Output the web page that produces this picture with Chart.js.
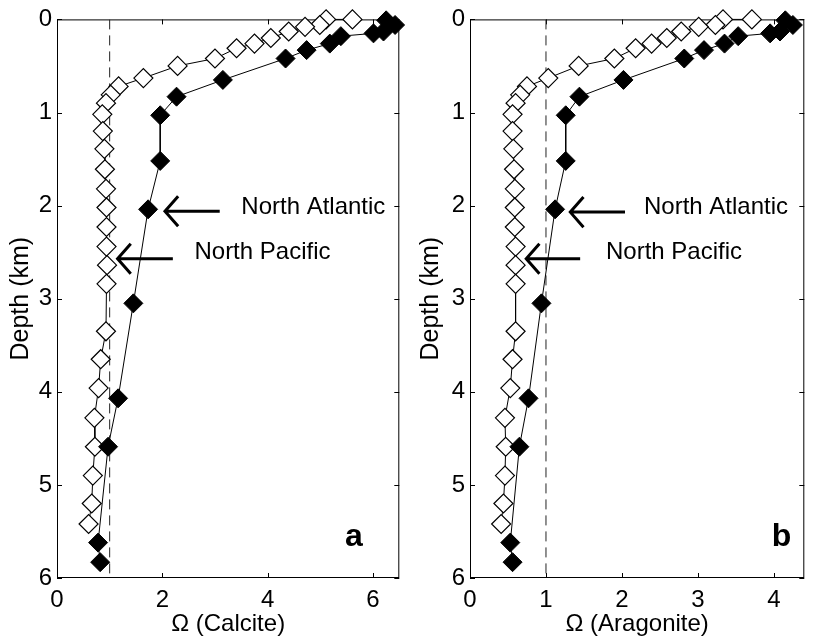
<!DOCTYPE html>
<html>
<head>
<meta charset="utf-8">
<script src="https://cdn.jsdelivr.net/npm/chart.js@4.4.1/dist/chart.umd.min.js"></script>
<style>
  body { margin: 0; background: #fff; }
  #wrapA { position: absolute; left: 0; top: 0; width: 410px; height: 642px; }
  #wrapB { position: absolute; left: 410px; top: 0; width: 405px; height: 642px; }
</style>
</head>
<body>
<div id="wrapA"><canvas id="chartA" width="410" height="642"></canvas></div>
<div id="wrapB"><canvas id="chartB" width="405" height="642"></canvas></div>
<script>
// depth (km) of each sample
const depthAtlantic = [0.01, 0.06, 0.13, 0.15, 0.18, 0.26, 0.33, 0.42, 0.65, 0.83, 1.03, 1.52, 2.04, 3.05, 4.07, 4.59, 5.62, 5.83];
const depthPacific = [0.00, 0.00, 0.06, 0.08, 0.13, 0.20, 0.26, 0.31, 0.42, 0.50, 0.63, 0.72, 0.81, 0.90, 1.02, 1.20, 1.39, 1.61, 1.82, 2.02, 2.23, 2.44, 2.64, 2.84, 3.35, 3.65, 3.96, 4.28, 4.59, 4.90, 5.20, 5.42];

// saturation state, calcite
const calciteAtlantic = [6.25, 6.42, 6.20, 6.01, 5.39, 5.18, 4.74, 4.34, 3.15, 2.27, 1.96, 1.96, 1.73, 1.45, 1.16, 0.97, 0.78, 0.82];
const calcitePacific = [5.61, 5.11, 4.99, 4.71, 4.40, 4.06, 3.75, 3.41, 3.00, 2.29, 1.64, 1.17, 1.02, 0.93, 0.86, 0.87, 0.90, 0.91, 0.93, 0.94, 0.94, 0.94, 0.95, 0.94, 0.93, 0.83, 0.79, 0.71, 0.72, 0.68, 0.66, 0.60];

// saturation state, aragonite
const aragoniteAtlantic = [4.15, 4.25, 4.08, 3.95, 3.53, 3.35, 3.08, 2.82, 2.02, 1.44, 1.26, 1.26, 1.12, 0.94, 0.77, 0.65, 0.53, 0.56];
const aragonitePacific = [3.71, 3.33, 3.23, 3.01, 2.78, 2.59, 2.39, 2.18, 1.90, 1.43, 1.03, 0.75, 0.66, 0.60, 0.56, 0.56, 0.57, 0.58, 0.59, 0.59, 0.59, 0.60, 0.60, 0.60, 0.60, 0.56, 0.53, 0.46, 0.47, 0.46, 0.44, 0.41];

// axes
const depthTicks = [0, 1, 2, 3, 4, 5, 6];
const calciteTicks = [0, 2, 4, 6];
const aragoniteTicks = [0, 1, 2, 3, 4];
const saturationLine = 1; // Omega = 1

const FONT = "'Liberation Sans', Arial, Helvetica, sans-serif";

function toPoints(xs, ys) {
    return xs.map((v, i) => ({ x: v, y: ys[i] }));
}

function drawArrow(ctx, x1, y1, x2, y2) {
    // x2,y2 is the tip
    const ang = Math.atan2(y2 - y1, x2 - x1);
    const head = 20;
    ctx.beginPath();
    ctx.moveTo(x1, y1);
    ctx.lineTo(x2, y2);
    ctx.moveTo(x2 + head * Math.cos(ang + Math.PI - 0.85), y2 + head * Math.sin(ang + Math.PI - 0.85));
    ctx.lineTo(x2, y2);
    ctx.lineTo(x2 + head * Math.cos(ang + Math.PI + 0.85), y2 + head * Math.sin(ang + Math.PI + 0.85));
    ctx.stroke();
}

// box, inward ticks, arrows and labels
const framePlugin = {
    id: 'frame',
    beforeDatasetsDraw(chart) {
        const { ctx, chartArea: a, scales: { x, y } } = chart;
        ctx.save();
        ctx.strokeStyle = '#000';
        ctx.lineWidth = 1;
        ctx.strokeRect(a.left + 0.5, a.top + 0.5, a.right - a.left - 1, a.bottom - a.top - 1);
        ctx.beginPath();
        x.ticks.forEach(t => {
            const px = Math.round(x.getPixelForValue(t.value)) + 0.5;
            ctx.moveTo(px, a.bottom); ctx.lineTo(px, a.bottom - 5);
            ctx.moveTo(px, a.top); ctx.lineTo(px, a.top + 5);
        });
        y.ticks.forEach(t => {
            const py = Math.round(y.getPixelForValue(t.value)) + 0.5;
            ctx.moveTo(a.left, py); ctx.lineTo(a.left + 5, py);
            ctx.moveTo(a.right, py); ctx.lineTo(a.right - 5, py);
        });
        ctx.stroke();
        ctx.restore();
    },
    afterDraw(chart, args, opts) {
        const { ctx, scales: { x, y } } = chart;
        ctx.save();
        ctx.strokeStyle = '#000';
        ctx.fillStyle = '#000';
        ctx.lineWidth = 3;
        (opts.notes || []).forEach(n => {
            drawArrow(ctx, x.getPixelForValue(n.tail), y.getPixelForValue(n.depth),
                x.getPixelForValue(n.tip), y.getPixelForValue(n.depth));
            ctx.font = '24px ' + FONT;
            ctx.textAlign = 'left';
            ctx.textBaseline = 'middle';
            ctx.fillText(n.text, x.getPixelForValue(n.textX), y.getPixelForValue(n.textY));
        });
        if (opts.letter) {
            ctx.font = 'bold 32px ' + FONT;
            ctx.textAlign = 'center';
            ctx.textBaseline = 'middle';
            ctx.fillText(opts.letter.text, x.getPixelForValue(opts.letter.x), y.getPixelForValue(opts.letter.y));
        }
        ctx.restore();
    }
};

function makePanel(id, cfg) {
    const ctx = document.getElementById(id).getContext('2d');
    return new Chart(ctx, {
        type: 'scatter',
        data: {
            datasets: [
                {
                    label: 'North Atlantic',
                    data: toPoints(cfg.atlantic, depthAtlantic),
                    showLine: true,
                    borderColor: '#000',
                    borderWidth: 1,
                    pointStyle: 'rectRot',
                    pointRadius: 9.5,
                    pointBackgroundColor: '#000',
                    pointBorderColor: '#000',
                    pointBorderWidth: 1,
                    clip: false,
                    order: 0
                },
                {
                    label: 'North Pacific',
                    data: toPoints(cfg.pacific, depthPacific),
                    showLine: true,
                    borderColor: '#000',
                    borderWidth: 1,
                    pointStyle: 'rectRot',
                    pointRadius: 9.5,
                    pointBackgroundColor: '#fff',
                    pointBorderColor: '#000',
                    pointBorderWidth: 1.2,
                    clip: false,
                    order: 1
                },
                {
                    label: 'Omega = 1',
                    data: [{ x: saturationLine, y: depthTicks[0] }, { x: saturationLine, y: depthTicks[depthTicks.length - 1] }],
                    showLine: true,
                    borderColor: '#222',
                    borderWidth: 1,
                    borderDash: [10, 6],
                    pointRadius: 0,
                    order: 2
                }
            ]
        },
        options: {
            responsive: false,
            animation: false,
            layout: { padding: { left: 0, right: cfg.padRight, top: 16, bottom: 0 } },
            plugins: {
                legend: { display: false },
                tooltip: { enabled: false },
                frame: { notes: cfg.notes, letter: cfg.letter }
            },
            scales: {
                x: {
                    type: 'linear',
                    min: 0,
                    max: cfg.xMax,
                    afterBuildTicks: s => { s.ticks = cfg.xTicks.map(v => ({ value: v })); },
                    afterFit: s => { s.height = 64; },
                    grid: { display: false, drawTicks: false },
                    border: { display: false },
                    ticks: { color: '#000', font: { family: FONT, size: 24 }, padding: 8, maxRotation: 0 },
                    title: { display: true, text: cfg.xTitle, color: '#000', font: { family: FONT, size: 24 }, padding: { top: 0, bottom: 3 } }
                },
                y: {
                    type: 'linear',
                    reverse: true,
                    min: 0,
                    max: 6,
                    afterBuildTicks: s => { s.ticks = depthTicks.map(v => ({ value: v })); },
                    afterFit: s => { s.width = cfg.yWidth; },
                    grid: { display: false, drawTicks: false },
                    border: { display: false },
                    ticks: { color: '#000', font: { family: FONT, size: 24 }, padding: 5 },
                    title: { display: true, text: 'Depth (km)', color: '#000', font: { family: FONT, size: 25 }, padding: { top: 6, bottom: 0 } }
                }
            }
        },
        plugins: [framePlugin]
    });
}

makePanel('chartA', {
    atlantic: calciteAtlantic,
    pacific: calcitePacific,
    xMax: 6.5,
    xTicks: calciteTicks,
    xTitle: 'Ω (Calcite)',
    yWidth: 57,
    padRight: 4,
    notes: [
        { text: 'North Atlantic', tip: 2.05, tail: 3.09, depth: 2.06, textX: 3.5, textY: 2.02 },
        { text: 'North Pacific', tip: 1.15, tail: 2.2, depth: 2.57, textX: 2.61, textY: 2.5 }
    ],
    letter: { text: 'a', x: 5.64, y: 5.56 }
});

makePanel('chartB', {
    atlantic: aragoniteAtlantic,
    pacific: aragonitePacific,
    xMax: 4.4,
    xTicks: aragoniteTicks,
    xTitle: 'Ω (Aragonite)',
    yWidth: 60,
    padRight: 1,
    notes: [
        { text: 'North Atlantic', tip: 1.32, tail: 2.04, depth: 2.07, textX: 2.29, textY: 2.02 },
        { text: 'North Pacific', tip: 0.74, tail: 1.45, depth: 2.57, textX: 1.79, textY: 2.5 }
    ],
    letter: { text: 'b', x: 4.1, y: 5.56 }
});
</script>
</body>
</html>
